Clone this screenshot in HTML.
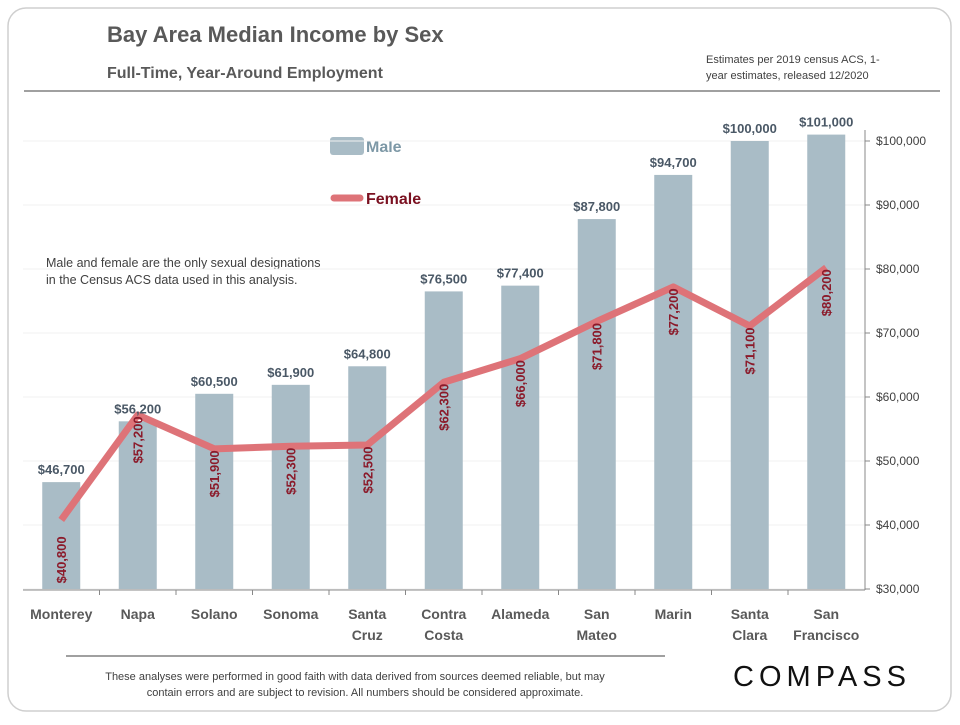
<!DOCTYPE html>
<html><head><meta charset="utf-8"><style>
body{margin:0;background:#fff;font-family:"Liberation Sans",sans-serif;}
svg text{font-family:"Liberation Sans",sans-serif;}
</style></head><body>
<svg id="c" width="960" height="720">
<rect x="8" y="8" width="943" height="703" rx="18" fill="#fff" stroke="#cfcfcf" stroke-width="1.5"/>
<text x="107" y="42" font-size="22" font-weight="bold" fill="#595959">Bay Area Median Income by Sex</text>
<text x="107" y="78" font-size="16" font-weight="bold" fill="#595959">Full-Time,  Year-Around  Employment</text>
<text x="706" y="63" font-size="11" fill="#404040">Estimates per 2019 census ACS, 1-</text>
<text x="706" y="79" font-size="11" fill="#404040">year estimates, released 12/2020</text>
<line x1="24" y1="91" x2="940" y2="91" stroke="#a0a0a0" stroke-width="2"/>
<text x="46" y="267" font-size="12.5" fill="#404040">Male and female are the only sexual designations</text>
<text x="46" y="284" font-size="12.5" fill="#404040">in the Census ACS data used in this analysis.</text>
<rect x="330" y="137" width="34" height="18" rx="3" fill="#a9bcc6"/>
<text x="366" y="152" font-size="16" font-weight="bold" fill="#7d98a6">Male</text>
<line x1="334" y1="198" x2="360" y2="198" stroke="#de7378" stroke-width="7" stroke-linecap="round"/>
<text x="366" y="204" font-size="16" font-weight="bold" fill="#7a1020">Female</text>
<g id="grid"></g><g id="bars"></g><g id="line"></g><g id="labels"></g><g id="axes"></g>
<line x1="66" y1="656" x2="665" y2="656" stroke="#a0a0a0" stroke-width="2"/>
<text x="355" y="680" font-size="11" fill="#404040" text-anchor="middle">These analyses  were performed in good faith with data derived from sources deemed reliable, but may</text>
<text x="365" y="696" font-size="11" fill="#404040" text-anchor="middle">contain errors and are subject to revision.  All numbers should be considered approximate.</text>
<text x="822" y="686" font-size="29" fill="#111" text-anchor="middle" letter-spacing="5">COMPASS</text>
</svg>
<script>
const categories=[["Monterey"],["Napa"],["Solano"],["Sonoma"],["Santa","Cruz"],["Contra","Costa"],["Alameda"],["San","Mateo"],["Marin"],["Santa","Clara"],["San","Francisco"]];
const maleValues=[46700,56200,60500,61900,64800,76500,77400,87800,94700,100000,101000];
const femaleValues=[40800,57200,51900,52300,52500,62300,66000,71800,77200,71100,80200];
const yTicks=[30000,40000,50000,60000,70000,80000,90000,100000];
const NS="http://www.w3.org/2000/svg";
const x0=23,band=76.5,plotTop=141,plotBottom=589;
const y=v=>plotBottom-(v-30000)/70000*(plotBottom-plotTop);
const xc=i=>x0+band*(i+0.5);
const fmt=v=>"$"+v.toLocaleString("en-US");
function mk(tag,attrs,parent,txt){const e=document.createElementNS(NS,tag);for(const k in attrs)e.setAttribute(k,attrs[k]);if(txt!==undefined)e.textContent=txt;document.getElementById(parent).appendChild(e);return e;}
yTicks.forEach(t=>{
 const g=mk("line",{x1:x0,x2:865,y1:y(t),y2:y(t),stroke:"#f0f0f0"},"grid");
 
 
 const tk=mk("line",{x1:865,x2:870,y1:y(t),y2:y(t),stroke:"#888"},"axes");
 
 
 const l=mk("text",{x:876,y:y(t)+4,"font-size":12,fill:"#404040"},"axes",fmt(t));
 
 
});
const ax=mk("line",{x1:865,x2:865,y1:130,y2:590,stroke:"#888"},"axes");


const bx=mk("line",{x1:x0,x2:865,y1:590,y2:590,stroke:"#888"},"axes");


categories.forEach((c,i)=>{
 const b=mk("rect",{x:xc(i)-19,y:y(maleValues[i]),width:38,height:plotBottom-y(maleValues[i]),fill:"#a9bcc6"},"bars");
 
 
 const ml=mk("text",{x:xc(i),y:y(maleValues[i])-8,"font-size":13,"font-weight":"bold",fill:"#4a5866","text-anchor":"middle"},"labels",fmt(maleValues[i]));
 
 
 const fy=y(femaleValues[i])+(i===0?40:25);
 const fl=mk("text",{x:xc(i)+5,y:fy,"font-size":13,"font-weight":"bold",fill:"#8b1a2a","text-anchor":"middle",transform:`rotate(-90 ${xc(i)+5} ${fy})`},"labels",fmt(femaleValues[i]));
 
 
 if(i>0){const t=mk("line",{x1:x0+band*i,x2:x0+band*i,y1:590,y2:595,stroke:"#888"},"axes");
 
 }
 c.forEach((w,j)=>{const cl=mk("text",{x:xc(i),y:619+j*21,"font-size":14,"font-weight":"bold",fill:"#595959","text-anchor":"middle"},"axes",w);
 
 });
});
const pl=mk("polyline",{points:femaleValues.map((v,i)=>xc(i)+","+y(v)).join(" "),fill:"none",stroke:"#de7378","stroke-width":7,"stroke-linejoin":"round"},"line");


document.getElementById("labels").parentNode.appendChild(document.getElementById("labels"));
</script>
</body></html>
